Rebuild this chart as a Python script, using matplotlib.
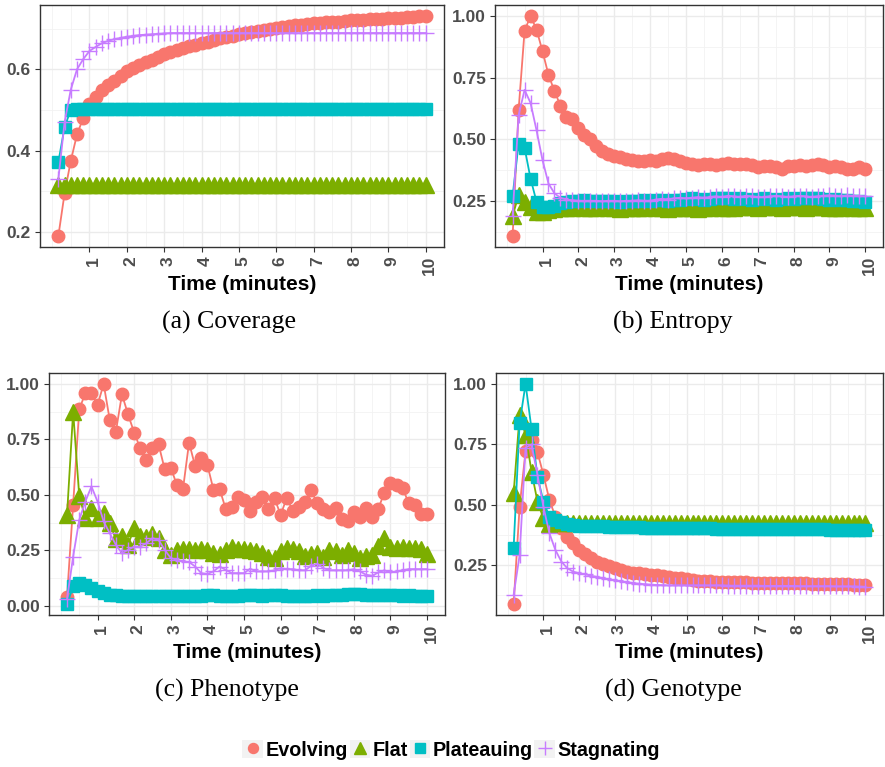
import matplotlib
matplotlib.use("Agg")
import matplotlib.pyplot as plt
from matplotlib.lines import Line2D
from matplotlib.patches import Patch
from matplotlib.legend_handler import HandlerTuple
from matplotlib.ticker import FixedLocator
from matplotlib.transforms import ScaledTranslation

plt.rcParams["font.family"] = ["Liberation Sans", "DejaVu Sans"]

# sample times, seconds (one sample every 10 s)
seconds = [10, 20, 30, 40, 50, 60, 70, 80, 90, 100, 110, 120, 130, 140, 150,
           160, 170, 180, 190, 200, 210, 220, 230, 240, 250, 260, 270, 280, 290, 300,
           310, 320, 330, 340, 350, 360, 370, 380, 390, 400, 410, 420, 430, 440, 450,
           460, 470, 480, 490, 500, 510, 520, 530, 540, 550, 560, 570, 580, 590, 600]

series_names = ["Evolving", "Flat", "Plateauing", "Stagnating"]
colors = ["#F8766D", "#7CAE00", "#00BFC4", "#C77CFF"]

# (a) Coverage
coverage_evolving = [0.19, 0.295, 0.375, 0.44, 0.48, 0.515, 0.532, 0.548, 0.562, 0.572,
                     0.584, 0.595, 0.603, 0.610, 0.617, 0.623, 0.631, 0.638, 0.643, 0.648,
                     0.652, 0.656, 0.660, 0.664, 0.668, 0.672, 0.676, 0.680, 0.683, 0.686,
                     0.689, 0.692, 0.695, 0.697, 0.700, 0.702, 0.704, 0.706, 0.708, 0.710,
                     0.712, 0.713, 0.714, 0.715, 0.716, 0.717, 0.718, 0.720, 0.721, 0.722,
                     0.723, 0.724, 0.724, 0.725, 0.726, 0.727, 0.728, 0.729, 0.730, 0.731]
coverage_flat = [0.316, 0.316, 0.316, 0.316, 0.316, 0.316, 0.316, 0.316, 0.316, 0.316,
                 0.316, 0.316, 0.316, 0.316, 0.316, 0.316, 0.316, 0.316, 0.316, 0.316,
                 0.316, 0.316, 0.316, 0.316, 0.316, 0.316, 0.316, 0.316, 0.316, 0.316,
                 0.316, 0.316, 0.316, 0.316, 0.316, 0.316, 0.316, 0.316, 0.316, 0.316,
                 0.316, 0.316, 0.316, 0.316, 0.316, 0.316, 0.316, 0.316, 0.316, 0.316,
                 0.316, 0.316, 0.316, 0.316, 0.316, 0.316, 0.316, 0.316, 0.316, 0.316]
coverage_plateauing = [0.372, 0.458, 0.500, 0.503, 0.503, 0.503, 0.503, 0.503, 0.503, 0.503,
                       0.503, 0.503, 0.503, 0.503, 0.503, 0.503, 0.503, 0.503, 0.503, 0.503,
                       0.503, 0.503, 0.503, 0.503, 0.503, 0.503, 0.503, 0.503, 0.503, 0.503,
                       0.503, 0.503, 0.503, 0.503, 0.503, 0.503, 0.503, 0.503, 0.503, 0.503,
                       0.503, 0.503, 0.503, 0.503, 0.503, 0.503, 0.503, 0.503, 0.503, 0.503,
                       0.503, 0.503, 0.503, 0.503, 0.503, 0.503, 0.503, 0.503, 0.503, 0.503]
coverage_stagnating = [0.33, 0.47, 0.55, 0.60, 0.625, 0.645, 0.655, 0.664, 0.670, 0.674,
                       0.677, 0.680, 0.682, 0.684, 0.685, 0.686, 0.687, 0.688, 0.689, 0.689,
                       0.689, 0.689, 0.689, 0.689, 0.689, 0.689, 0.689, 0.689, 0.689, 0.689,
                       0.689, 0.689, 0.689, 0.689, 0.689, 0.689, 0.689, 0.689, 0.689, 0.689,
                       0.689, 0.689, 0.689, 0.689, 0.689, 0.689, 0.689, 0.689, 0.689, 0.689,
                       0.689, 0.689, 0.689, 0.689, 0.689, 0.689, 0.689, 0.689, 0.689, 0.689]

# (b) Entropy
entropy_evolving = [0.107, 0.618, 0.94, 1.0, 0.945, 0.857, 0.761, 0.695, 0.636, 0.588,
                    0.58, 0.546, 0.516, 0.499, 0.473, 0.453, 0.439, 0.431, 0.428, 0.42,
                    0.415, 0.412, 0.41, 0.415, 0.412, 0.42, 0.425, 0.418, 0.41, 0.405,
                    0.40, 0.395, 0.40, 0.40, 0.395, 0.40, 0.405, 0.40, 0.40, 0.398,
                    0.395, 0.385, 0.39, 0.39, 0.385, 0.38, 0.39, 0.39, 0.395, 0.39,
                    0.395, 0.40, 0.395, 0.388, 0.39, 0.385, 0.38, 0.38, 0.385, 0.38]
entropy_flat = [0.188, 0.273, 0.246, 0.226, 0.205, 0.205, 0.212, 0.218, 0.220, 0.222,
                0.222, 0.224, 0.222, 0.220, 0.222, 0.224, 0.222, 0.220, 0.218, 0.220,
                0.222, 0.220, 0.222, 0.224, 0.222, 0.220, 0.218, 0.220, 0.222, 0.222,
                0.220, 0.218, 0.220, 0.222, 0.224, 0.222, 0.220, 0.222, 0.224, 0.226,
                0.224, 0.222, 0.224, 0.226, 0.224, 0.222, 0.224, 0.226, 0.224, 0.222,
                0.224, 0.226, 0.224, 0.222, 0.220, 0.222, 0.224, 0.222, 0.220, 0.220]
entropy_plateauing = [0.269, 0.482, 0.465, 0.34, 0.246, 0.226, 0.226, 0.228, 0.240, 0.245,
                      0.248, 0.250, 0.252, 0.250, 0.248, 0.250, 0.250, 0.248, 0.245, 0.248,
                      0.250, 0.250, 0.252, 0.250, 0.255, 0.252, 0.250, 0.252, 0.255, 0.258,
                      0.260, 0.258, 0.255, 0.258, 0.260, 0.262, 0.260, 0.258, 0.260, 0.258,
                      0.255, 0.258, 0.260, 0.258, 0.255, 0.258, 0.260, 0.258, 0.260, 0.262,
                      0.262, 0.260, 0.258, 0.255, 0.258, 0.255, 0.252, 0.250, 0.248, 0.246]
entropy_stagnating = [0.19, 0.597, 0.70, 0.647, 0.536, 0.415, 0.32, 0.28, 0.262, 0.255,
                      0.252, 0.250, 0.250, 0.250, 0.250, 0.248, 0.250, 0.250, 0.248, 0.250,
                      0.250, 0.252, 0.250, 0.250, 0.255, 0.258, 0.255, 0.260, 0.262, 0.260,
                      0.262, 0.265, 0.262, 0.265, 0.268, 0.265, 0.270, 0.268, 0.265, 0.270,
                      0.268, 0.265, 0.265, 0.268, 0.270, 0.268, 0.265, 0.268, 0.270, 0.268,
                      0.265, 0.268, 0.270, 0.272, 0.270, 0.268, 0.272, 0.270, 0.270, 0.268]

# (c) Phenotype
phenotype_evolving = [0.04, 0.455, 0.886, 0.958, 0.958, 0.905, 1.0, 0.838, 0.785, 0.953,
                      0.863, 0.781, 0.71, 0.658, 0.713, 0.728, 0.616, 0.623, 0.545, 0.526,
                      0.736, 0.628, 0.665, 0.635, 0.523, 0.527, 0.437, 0.447, 0.492, 0.477,
                      0.429, 0.47, 0.492, 0.437, 0.485, 0.41, 0.485, 0.429, 0.447, 0.47,
                      0.52, 0.462, 0.437, 0.425, 0.443, 0.39, 0.384, 0.425, 0.402, 0.44,
                      0.402, 0.437, 0.51, 0.553, 0.545, 0.53, 0.462, 0.455, 0.414, 0.414]
phenotype_flat = [0.41, 0.875, 0.495, 0.395, 0.44, 0.395, 0.417, 0.372, 0.30, 0.315,
                  0.275, 0.35, 0.315, 0.312, 0.324, 0.305, 0.252, 0.227, 0.252, 0.257,
                  0.255, 0.25, 0.255, 0.25, 0.24, 0.235, 0.25, 0.265, 0.255, 0.255,
                  0.25, 0.245, 0.24, 0.22, 0.215, 0.245, 0.26, 0.255, 0.245, 0.225,
                  0.235, 0.24, 0.22, 0.25, 0.245, 0.23, 0.25, 0.24, 0.215, 0.225,
                  0.23, 0.27, 0.305, 0.265, 0.26, 0.265, 0.26, 0.26, 0.255, 0.235]
phenotype_plateauing = [0.008, 0.087, 0.102, 0.095, 0.08, 0.065, 0.057, 0.05, 0.047, 0.045,
                        0.045, 0.044, 0.045, 0.046, 0.045, 0.044, 0.043, 0.044, 0.045, 0.044,
                        0.045, 0.046, 0.045, 0.047, 0.048, 0.046, 0.045, 0.044, 0.046, 0.047,
                        0.048, 0.047, 0.046, 0.047, 0.048, 0.047, 0.046, 0.045, 0.046, 0.045,
                        0.046, 0.047, 0.046, 0.047, 0.048, 0.050, 0.053, 0.055, 0.053, 0.050,
                        0.049, 0.048, 0.047, 0.048, 0.047, 0.046, 0.047, 0.046, 0.045, 0.045]
phenotype_stagnating = [0.03, 0.222, 0.387, 0.47, 0.538, 0.47, 0.38, 0.327, 0.275, 0.237,
                        0.252, 0.267, 0.267, 0.282, 0.305, 0.297, 0.252, 0.215, 0.207, 0.20,
                        0.197, 0.177, 0.147, 0.143, 0.155, 0.177, 0.162, 0.147, 0.147, 0.147,
                        0.167, 0.155, 0.155, 0.155, 0.16, 0.17, 0.165, 0.165, 0.16, 0.16,
                        0.18, 0.19, 0.17, 0.16, 0.16, 0.16, 0.16, 0.165, 0.155, 0.14,
                        0.135, 0.15, 0.16, 0.15, 0.155, 0.16, 0.165, 0.165, 0.165, 0.165]

# (d) Genotype
genotype_evolving = [0.088, 0.49, 0.722, 0.768, 0.717, 0.623, 0.519, 0.45, 0.405, 0.367,
                     0.34, 0.312, 0.294, 0.28, 0.264, 0.254, 0.245, 0.236, 0.228, 0.222,
                     0.218, 0.215, 0.213, 0.21, 0.207, 0.203, 0.20, 0.197, 0.194, 0.19,
                     0.187, 0.185, 0.183, 0.182, 0.181, 0.18, 0.18, 0.179, 0.178, 0.178,
                     0.177, 0.177, 0.176, 0.176, 0.175, 0.175, 0.174, 0.174, 0.173, 0.173,
                     0.172, 0.172, 0.171, 0.171, 0.170, 0.170, 0.169, 0.168, 0.167, 0.165]
genotype_flat = [0.547, 0.87, 0.79, 0.637, 0.512, 0.443, 0.418, 0.427, 0.425, 0.425,
                 0.425, 0.425, 0.425, 0.425, 0.425, 0.425, 0.425, 0.425, 0.425, 0.425,
                 0.425, 0.425, 0.425, 0.425, 0.425, 0.425, 0.425, 0.425, 0.425, 0.425,
                 0.425, 0.425, 0.425, 0.425, 0.425, 0.425, 0.425, 0.425, 0.425, 0.425,
                 0.425, 0.425, 0.425, 0.425, 0.425, 0.425, 0.425, 0.425, 0.425, 0.425,
                 0.425, 0.425, 0.425, 0.425, 0.425, 0.425, 0.425, 0.425, 0.425, 0.425]
genotype_plateauing = [0.322, 0.837, 1.0, 0.814, 0.616, 0.512, 0.45, 0.436, 0.427, 0.418,
                       0.415, 0.413, 0.412, 0.411, 0.410, 0.410, 0.409, 0.408, 0.408, 0.407,
                       0.406, 0.406, 0.405, 0.405, 0.404, 0.404, 0.403, 0.403, 0.402, 0.402,
                       0.402, 0.401, 0.401, 0.401, 0.400, 0.400, 0.400, 0.400, 0.399, 0.399,
                       0.399, 0.399, 0.398, 0.398, 0.398, 0.398, 0.398, 0.397, 0.397, 0.397,
                       0.397, 0.397, 0.397, 0.396, 0.396, 0.396, 0.396, 0.396, 0.395, 0.395]
genotype_stagnating = [0.126, 0.29, 0.736, 0.75, 0.623, 0.49, 0.381, 0.312, 0.264, 0.236,
                       0.222, 0.215, 0.211, 0.205, 0.20, 0.195, 0.19, 0.186, 0.182, 0.178,
                       0.175, 0.172, 0.17, 0.168, 0.167, 0.166, 0.165, 0.165, 0.165, 0.165,
                       0.165, 0.165, 0.165, 0.165, 0.165, 0.165, 0.164, 0.164, 0.164, 0.164,
                       0.164, 0.164, 0.163, 0.163, 0.163, 0.163, 0.163, 0.163, 0.162, 0.162,
                       0.162, 0.162, 0.162, 0.162, 0.161, 0.161, 0.161, 0.161, 0.160, 0.160]

x_ticks = [1, 2, 3, 4, 5, 6, 7, 8, 9, 10]

panels = [
    ("(a) Coverage", [0.0452, 0.678, 0.4565, 0.3155], (229, 322),
     [coverage_evolving, coverage_flat, coverage_plateauing, coverage_stagnating],
     [0.2, 0.4, 0.6], [0.3, 0.5, 0.7], "{:.1f}"),
    ("(b) Entropy", [0.5593, 0.678, 0.4384, 0.3155], (673, 322),
     [entropy_evolving, entropy_flat, entropy_plateauing, entropy_stagnating],
     [0.25, 0.5, 0.75, 1.0], [0.125, 0.375, 0.625, 0.875], "{:.2f}"),
    ("(c) Phenotype", [0.0554, 0.1982, 0.4475, 0.3155], (227, 690),
     [phenotype_evolving, phenotype_flat, phenotype_plateauing, phenotype_stagnating],
     [0.0, 0.25, 0.5, 0.75, 1.0], [0.125, 0.375, 0.625, 0.875], "{:.2f}"),
    ("(d) Genotype", [0.5605, 0.1982, 0.4373, 0.3155], (673, 690),
     [genotype_evolving, genotype_flat, genotype_plateauing, genotype_stagnating],
     [0.25, 0.5, 0.75, 1.0], [0.125, 0.375, 0.625, 0.875], "{:.2f}"),
]

marker_styles = [
    dict(marker="o", markersize=9),
    dict(marker="^", markersize=11),
    dict(marker="s", markersize=8.5),
    dict(marker="+", markersize=12, markeredgewidth=1.0),
]

W, H = 885, 767
fig = plt.figure(figsize=(W / 100, H / 100), dpi=100)
minutes = [s / 60 for s in seconds]
shift = ScaledTranslation(4 / 100, 0, fig.dpi_scale_trans)

for caption, rect, cap_pos, data, yticks, yminor, fmt in panels:
    ax = fig.add_axes(rect)
    for i, values in enumerate(data):
        ax.plot(minutes, values, color=colors[i], linewidth=1.3,
                markeredgecolor=colors[i], zorder=3 + i, **marker_styles[i])
    ax.margins(x=0.05, y=0.05)
    ax.xaxis.set_major_locator(FixedLocator(x_ticks))
    ax.xaxis.set_minor_locator(FixedLocator([0, 0.5, 1.5, 2.5, 3.5, 4.5, 5.5, 6.5,
                                             7.5, 8.5, 9.5, 10.5]))
    ax.yaxis.set_major_locator(FixedLocator(yticks))
    ax.yaxis.set_minor_locator(FixedLocator(yminor))
    ax.set_yticklabels([fmt.format(v) for v in yticks])
    ax.set_xticklabels([str(v) for v in x_ticks], rotation=90, va="top", ha="center")
    ax.grid(which="major", color="#EBEBEB", linewidth=1.0, zorder=0)
    ax.grid(which="minor", color="#F2F2F2", linewidth=0.6, zorder=0)
    ax.set_axisbelow(True)
    for sp in ax.spines.values():
        sp.set_color("#333333")
        sp.set_linewidth(1.0)
    ax.tick_params(which="major", length=3.5, width=0.8, color="#333333",
                   labelsize=12.5, labelcolor="#4D4D4D", pad=3)
    ax.tick_params(which="minor", length=0)
    for lab in ax.get_xticklabels() + ax.get_yticklabels():
        lab.set_fontweight("bold")
    for lab in ax.get_xticklabels():
        lab.set_transform(lab.get_transform() + shift)
    ax.set_xlabel("Time (minutes)", fontsize=15, fontweight="bold", labelpad=0)
    fig.text(cap_pos[0] / W, 1 - cap_pos[1] / H, caption, ha="center", va="center",
             fontsize=18.5, family=["Liberation Serif", "DejaVu Serif"])

handles = []
for i in range(4):
    key = Patch(facecolor="#F2F2F2", edgecolor="none")
    mk = Line2D([], [], color=colors[i], linestyle="none",
                markeredgecolor=colors[i], **dict(marker_styles[i],
                markersize=marker_styles[i]["markersize"] * 0.8))
    handles.append((key, mk))

fig.legend(handles, series_names, loc="center", bbox_to_anchor=(451 / W, 1 - 750 / H),
           ncol=4, frameon=False, handler_map={tuple: HandlerTuple(ndivide=1)},
           handlelength=1.05, handleheight=1.05, handletextpad=0.1, columnspacing=0.1,
           prop={"weight": "bold", "size": 14.2})

fig.savefig("out.png", dpi=100)
